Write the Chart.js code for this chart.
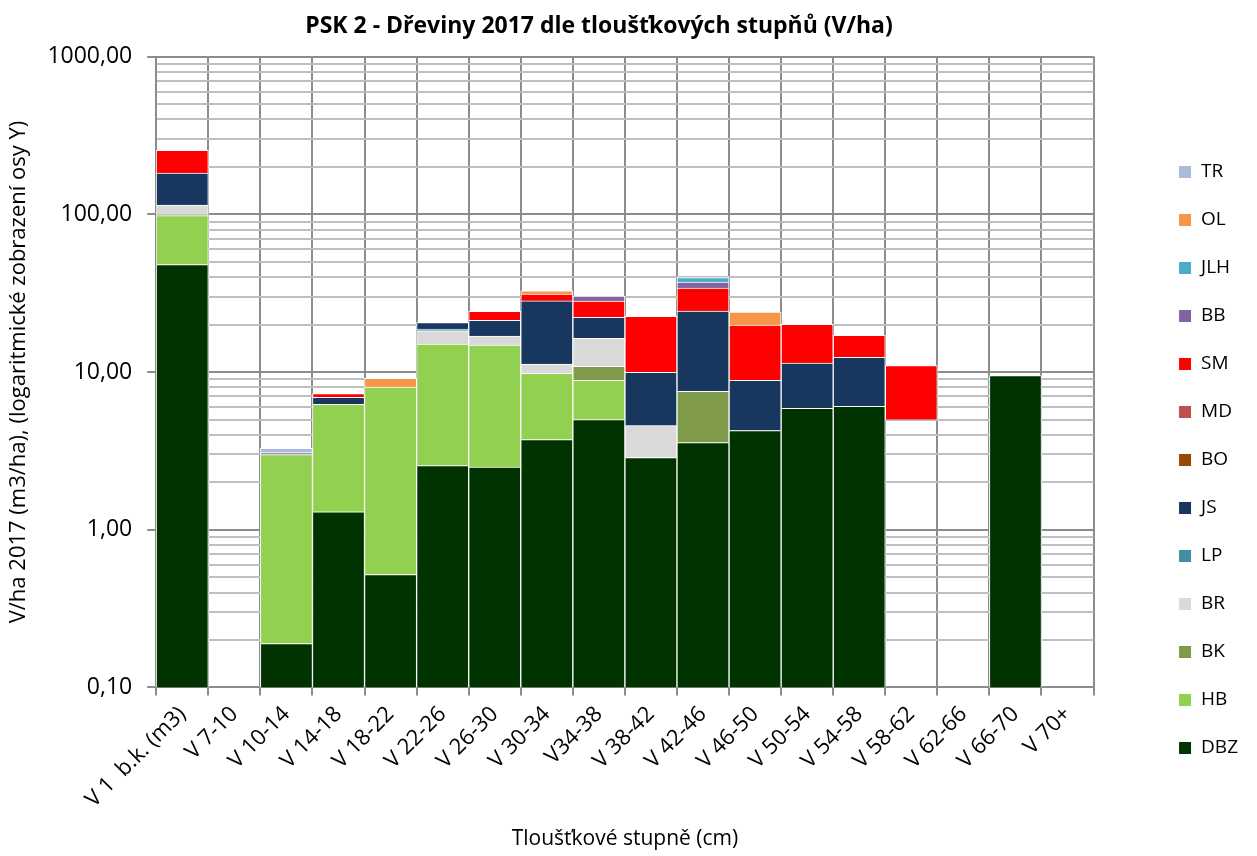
<!DOCTYPE html>
<html>
<head>
    <meta charset='utf-8'>
    <title>PSK 2 - Dřeviny 2017 dle tloušťkových stupňů</title>
    <script src="https://cdn.jsdelivr.net/npm/chart.js@4.4.1/dist/chart.umd.min.js"></script>
    <style>
        body { margin: 0; background: #fff; }
    </style>
</head>
<body>
    <canvas id="myChart" width="1257" height="856"></canvas>
    <script>
        // tloušťkové stupně (osa X)
        const stupne = ['V 1  b.k. (m3)', 'V 7-10', 'V 10-14', 'V 14-18', 'V 18-22', 'V 22-26', 'V 26-30',
            'V 30-34', 'V34-38', 'V 38-42', 'V 42-46', 'V 46-50', 'V 50-54', 'V 54-58', 'V 58-62',
            'V 62-66', 'V 66-70', 'V 70+'];

        // zásoby V/ha podle dřevin
        const skryte = [null, null, null, null, null, null, null, null, null, null, null, null, null, null, 5.0, null, null, null];
        const DBZ = [48, null, 0.19, 1.30, 0.52, 2.55, 2.5, 3.73, 5.0, 2.87, 3.57, 4.26, 5.88, 6.05, null, null, 9.5, null];
        const HB = [50, null, 2.81, 4.93, 7.5, 12.5, 12.3, 6.1, 3.86, null, null, null, null, null, null, null, null, null];
        const BK = [2.5, null, null, null, null, null, null, null, 2.0, null, 3.97, null, null, null, null, null, null, null];
        const BR = [14, null, null, null, null, 3.2, 2.1, 1.4, 5.5, 1.7, null, null, null, null, null, null, null, null];
        const LP = [null, null, null, null, null, 0.5, null, null, null, null, null, null, null, null, null, null, null, null];
        const JS = [68, null, null, 0.68, null, 1.8, 4.4, 17, 5.9, 5.4, 16.8, 4.6, 5.5, 6.35, null, null, null, null];
        const BO = [null, null, null, null, null, null, null, null, null, null, null, null, null, null, null, null, null, null];
        const MD = [null, null, null, null, null, null, null, null, null, null, null, null, null, null, null, null, null, null];
        const SM = [72, null, null, 0.4, null, null, 3.0, 3.0, 5.9, 12.6, 9.7, 10.96, 8.7, 4.7, 6.0, null, null, null];
        const BB = [null, null, 0.08, null, null, null, null, null, 2.1, null, 3.2, null, null, null, null, null, null, null];
        const JLH = [null, null, null, null, null, null, null, null, null, null, 2.5, null, null, null, null, null, null, null];
        const OL = [null, null, null, null, 1.1, null, null, 1.5, null, null, null, 4.2, null, null, null, null, null, null];
        const TR = [null, null, 0.2, null, null, null, null, null, null, null, null, null, null, null, null, null, null, null];

        const font = "'Open Sans', Lato, sans-serif";

        function serie(label, data, color) {
            return {
                label: label,
                data: data,
                backgroundColor: color,
                borderColor: '#ffffff',
                borderWidth: 1,
                stack: 'a'
            };
        }

        const datasets = [
            { label: '', data: skryte, backgroundColor: 'rgba(0,0,0,0)', borderWidth: 0, stack: 'a' },
            serie('DBZ', DBZ, '#003300'),
            serie('HB', HB, '#92d050'),
            serie('BK', BK, '#7f9a48'),
            serie('BR', BR, '#d9d9d9'),
            serie('LP', LP, '#3f8fa3'),
            serie('JS', JS, '#17375e'),
            serie('BO', BO, '#984807'),
            serie('MD', MD, '#c0504d'),
            serie('SM', SM, '#ff0000'),
            serie('BB', BB, '#8064a2'),
            serie('JLH', JLH, '#4bacc6'),
            serie('OL', OL, '#f79646'),
            serie('TR', TR, '#a9bcdb')
        ];

        // posun legendy doprava a dolů, jako v Excelu
        const posunLegendy = {
            id: 'posunLegendy',
            afterLayout(chart) {
                const lg = chart.legend;
                lg.left += 56; lg.right += 56;
                lg.top += 34; lg.bottom += 34;
            }
        };

        const ctx = document.getElementById('myChart').getContext('2d');
        const myChart = new Chart(ctx, {
            type: 'bar',
            data: { labels: stupne, datasets: datasets },
            plugins: [posunLegendy],
            options: {
                responsive: false,
                animation: false,
                layout: { padding: { left: 6, right: 65, top: 0, bottom: 4 } },
                datasets: { bar: { categoryPercentage: 1, barPercentage: 1 } },
                plugins: {
                    title: {
                        display: true,
                        text: 'PSK 2 - Dřeviny 2017 dle tloušťkových stupňů (V/ha)',
                        color: '#000',
                        font: { family: font, size: 23, weight: 'bold' },
                        padding: { top: 13, bottom: 16 }
                    },
                    legend: {
                        position: 'right',
                        reverse: true,
                        labels: {
                            color: '#000',
                            font: { family: font, size: 19 },
                            boxWidth: 13,
                            boxHeight: 13,
                            padding: 29,
                            filter: item => item.text !== ''
                        }
                    },
                    tooltip: { enabled: false }
                },
                scales: {
                    x: {
                        stacked: true,
                        grid: { color: '#8c8c8c', lineWidth: 2, tickLength: 8, offset: true },
                        border: { color: '#8c8c8c', width: 2 },
                        ticks: {
                            color: '#000',
                            font: { family: font, size: 22 },
                            maxRotation: 45,
                            minRotation: 45,
                            autoSkip: false,
                            padding: 6
                        },
                        title: {
                            display: true,
                            text: 'Tloušťkové stupně (cm)',
                            color: '#000',
                            font: { family: font, size: 21 },
                            padding: { top: 8, bottom: 0 }
                        }
                    },
                    y: {
                        type: 'logarithmic',
                        stacked: true,
                        min: 0.1,
                        max: 1000,
                        afterBuildTicks(scale) {
                            const ticks = [];
                            for (let e = -1; e <= 2; e++) {
                                for (let k = 1; k <= 9; k++) {
                                    ticks.push({ value: +(k * Math.pow(10, e)).toPrecision(6) });
                                }
                            }
                            ticks.push({ value: 1000 });
                            scale.ticks = ticks;
                        },
                        grid: {
                            color: c => isDekada(c.tick && c.tick.value) ? '#8c8c8c' : '#bfbfbf',
                            tickColor: c => isDekada(c.tick && c.tick.value) ? '#8c8c8c' : 'rgba(0,0,0,0)',
                            lineWidth: 2,
                            tickLength: 9
                        },
                        border: { color: '#8c8c8c', width: 2 },
                        ticks: {
                            color: '#000',
                            autoSkip: false,
                            padding: 15,
                            font: { family: font, size: 23 },
                            callback: v => isDekada(v) ? v.toFixed(2).replace('.', ',') : ''
                        },
                        title: {
                            display: true,
                            text: 'V/ha 2017 (m3/ha), (logaritmické zobrazení osy Y)',
                            color: '#000',
                            font: { family: font, size: 22 },
                            padding: { top: 0, bottom: 0 }
                        }
                    }
                }
            }
        });

        function isDekada(v) {
            if (!v) return false;
            const l = Math.log10(v);
            return Math.abs(l - Math.round(l)) < 1e-9;
        }
    </script>
</body>
</html>
